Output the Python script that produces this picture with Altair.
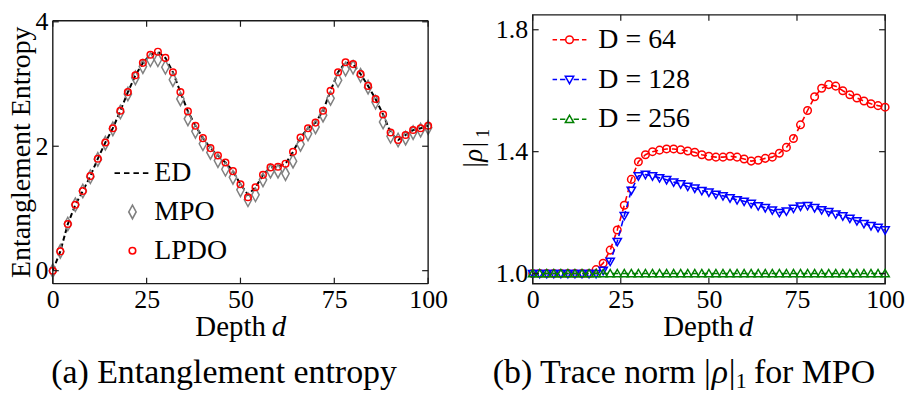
import altair as alt
import pandas as pd

# ---------------- data ----------------
depth = list(range(0, 101, 2))

ed_entropy = [0.00, 0.31, 0.75, 1.06, 1.28, 1.52, 1.80, 2.06, 2.29, 2.57,
              2.87, 3.14, 3.34, 3.47, 3.52, 3.42, 3.19, 2.87, 2.56, 2.33,
              2.13, 1.97, 1.85, 1.74, 1.60, 1.39, 1.22, 1.34, 1.54, 1.66,
              1.67, 1.72, 1.91, 2.14, 2.29, 2.38, 2.57, 2.89, 3.19, 3.35,
              3.32, 3.16, 2.97, 2.76, 2.51, 2.22, 2.10, 2.18, 2.26, 2.29, 2.33]

mpo_entropy = [0.00, 0.31, 0.75, 1.06, 1.28, 1.51, 1.79, 2.05, 2.28, 2.55,
               2.84, 3.10, 3.28, 3.39, 3.39, 3.27, 3.07, 2.76, 2.44, 2.24,
               2.04, 1.90, 1.77, 1.63, 1.50, 1.30, 1.14, 1.22, 1.46, 1.60,
               1.60, 1.56, 1.76, 2.03, 2.20, 2.31, 2.50, 2.77, 3.06, 3.24,
               3.27, 3.14, 2.95, 2.71, 2.39, 2.16, 2.10, 2.13, 2.22, 2.26, 2.30]

lpdo_entropy = [0.00, 0.31, 0.75, 1.06, 1.28, 1.52, 1.80, 2.06, 2.29, 2.57,
                2.87, 3.14, 3.34, 3.47, 3.52, 3.42, 3.19, 2.87, 2.56, 2.33,
                2.13, 1.97, 1.85, 1.74, 1.60, 1.39, 1.18, 1.34, 1.54, 1.66,
                1.67, 1.72, 1.91, 2.14, 2.29, 2.38, 2.57, 2.89, 3.19, 3.35,
                3.32, 3.16, 2.97, 2.76, 2.51, 2.22, 2.10, 2.18, 2.26, 2.29, 2.33]

norm_d64 = [1.000, 1.000, 1.000, 1.000, 1.000, 1.000, 1.000, 1.000, 1.000, 1.013,
            1.034, 1.077, 1.143, 1.224, 1.309, 1.367, 1.390, 1.400, 1.405, 1.409,
            1.409, 1.406, 1.402, 1.398, 1.390, 1.385, 1.382, 1.382, 1.385, 1.382,
            1.376, 1.369, 1.372, 1.378, 1.382, 1.395, 1.414, 1.443, 1.488, 1.535,
            1.580, 1.608, 1.620, 1.615, 1.600, 1.587, 1.576, 1.566, 1.557, 1.551,
            1.546]

norm_d128 = [1.000, 1.000, 1.000, 1.000, 1.000, 1.000, 1.000, 1.000, 1.000, 1.000,
             1.010, 1.040, 1.105, 1.190, 1.273, 1.320, 1.325, 1.320, 1.314, 1.308,
             1.300, 1.294, 1.286, 1.280, 1.272, 1.267, 1.260, 1.255, 1.248, 1.242,
             1.237, 1.230, 1.222, 1.216, 1.208, 1.200, 1.205, 1.214, 1.221, 1.223,
             1.216, 1.209, 1.203, 1.195, 1.189, 1.181, 1.173, 1.164, 1.157, 1.151,
             1.143]

norm_d256 = [1.000, 1.000, 1.000, 1.000, 1.000, 1.000, 1.000, 1.000, 1.000, 1.000,
             1.000, 1.000, 1.000, 1.000, 1.000, 1.000, 1.000, 1.000, 1.000, 1.000,
             1.000, 1.000, 1.000, 1.000, 1.000, 1.000, 1.000, 1.000, 1.000, 1.000,
             1.000, 1.000, 1.000, 1.000, 1.000, 1.000, 1.000, 1.000, 1.000, 1.000,
             1.000, 1.000, 1.000, 1.000, 1.000, 1.000, 1.000, 1.000, 1.000, 1.000,
             1.000]

left_names = ["ED", "MPO", "LPDO"]
right_names = ["D = 64", "D = 128", "D = 256"]

x_ticks = [0, 25, 50, 75, 100]
ent_ticks = [0, 2, 4]
norm_ticks = [1.0, 1.4, 1.8]

# ---------------- styling ----------------
SERIF = "Liberation Serif"
W1, W2, H = 377, 354, 270
LTOP = 6            # left frame starts 6px lower than the right one
TK = 6
FRAME = "#1a1a1a"
LBL = 26
CAP_Y = 370
XT_Y = 323

RED, BLUE, GREEN, GRAY = "#ff0000", "#0000ff", "#008000", "#808080"

CIRC_L = "M-0.33,0A0.33,0.33 0 1 0 0.33,0A0.33,0.33 0 1 0 -0.33,0Z"
DIAMOND = "M0,-0.68L0.37,0L0,0.68L-0.37,0Z"
ED_DASH = "M-1.8,0L-1.25,0M-0.85,0L-0.3,0M0.1,0L0.65,0M1.05,0L1.6,0"

CIRC_R = "M-0.38,0A0.38,0.38 0 1 0 0.38,0A0.38,0.38 0 1 0 -0.38,0Z"
TRI_DN = "M-0.42,-0.32L0.42,-0.32L0,0.42Z"
TRI_UP = "M-0.42,0.32L0.42,0.32L0,-0.42Z"
SIDE = "M-1.7,0L-1.25,0M-0.95,0L-0.42,0M0.42,0L0.95,0M1.25,0L1.7,0"

ONE = alt.Data(values=[{"k": 1}])


def txt(text, x, y, size, style="normal", align="center", angle=0):
    return alt.Chart(ONE).mark_text(
        text=text, font=SERIF, fontSize=size, fontStyle=style, align=align,
        baseline="alphabetic", angle=angle, color="black"
    ).encode(x=alt.value(x), y=alt.value(y))


def x_enc():
    return alt.X("d:Q", scale=alt.Scale(domain=[0, 100], nice=False, zero=False),
                 axis=alt.Axis(values=x_ticks, ticks=False, domain=False, grid=False,
                               labelFont=SERIF, labelFontSize=LBL, labelColor="black",
                               labelPadding=3, labelOverlap=False, labelFlush=False,
                               title=None))


def y_enc(field, domain, ticks, fmt):
    return alt.Y(field, scale=alt.Scale(domain=domain, nice=False, zero=False),
                 axis=alt.Axis(values=ticks, format=fmt, ticks=False, domain=False,
                               grid=False, labelFont=SERIF, labelFontSize=LBL,
                               labelColor="black", labelPadding=5, labelOverlap=False,
                               labelFlush=False, title=None))


def tick_layers(yfield, ydomain, yticks, fmt, W, top):
    xt = pd.DataFrame({"d": x_ticks})
    yt = pd.DataFrame({yfield.split(":")[0]: yticks})
    rule = dict(color=FRAME, strokeWidth=1.2)
    return [
        alt.Chart(xt).mark_rule(**rule).encode(x=x_enc(), y=alt.value(H), y2=alt.value(H - TK)),
        alt.Chart(xt).mark_rule(**rule).encode(x=x_enc(), y=alt.value(top), y2=alt.value(top + TK)),
        alt.Chart(yt).mark_rule(**rule).encode(y=y_enc(yfield, ydomain, yticks, fmt),
                                               x=alt.value(0), x2=alt.value(TK)),
        alt.Chart(yt).mark_rule(**rule).encode(y=y_enc(yfield, ydomain, yticks, fmt),
                                               x=alt.value(W - TK), x2=alt.value(W)),
    ]


# ---------------- left panel ----------------
ent_dom = [-0.208, 4.112]
df_ed = pd.DataFrame({"d": depth, "S": ed_entropy})
df_left = pd.concat([
    pd.DataFrame({"d": depth, "S": mpo_entropy, "method": "MPO"}),
    pd.DataFrame({"d": depth, "S": lpdo_entropy, "method": "LPDO"}),
])
YL = lambda: y_enc("S:Q", ent_dom, ent_ticks, "d")

ed_line = alt.Chart(df_ed).mark_line(color="black", strokeDash=[5, 3], strokeWidth=2).encode(
    x=x_enc(), y=YL())
mpo_pts = alt.Chart(df_left).transform_filter("datum.method == 'MPO'").mark_point(
    shape=DIAMOND, size=400, filled=False, color=GRAY, strokeWidth=1.5, opacity=1).encode(
    x=x_enc(), y=YL())
lpdo_pts = alt.Chart(df_left).transform_filter("datum.method == 'LPDO'").mark_point(
    shape=CIRC_L, size=400, filled=False, color=RED, strokeWidth=1.5, opacity=1).encode(
    x=x_enc(), y=YL())

leg_l = alt.Legend(title=None, orient="none", legendX=66, legendY=145, labelFont=SERIF,
                   labelFontSize=28, labelColor="black", symbolSize=400,
                   symbolStrokeWidth=1.6, labelOffset=8, rowPadding=11, padding=0,
                   labelLimit=400, symbolOpacity=1)
legend_left = alt.Chart(df_left).transform_filter("datum.d < 0").mark_point(
    filled=False, size=400, strokeWidth=1.6, opacity=1).encode(
    color=alt.Color("method:N", scale=alt.Scale(domain=left_names, range=["black", GRAY, RED]),
                    legend=leg_l),
    shape=alt.Shape("method:N", scale=alt.Scale(domain=left_names, range=[ED_DASH, DIAMOND, CIRC_L]),
                    legend=leg_l))

fr = dict(color=FRAME, strokeWidth=1.4)
left_frame = [
    alt.Chart(ONE).mark_rule(**fr).encode(x=alt.value(0), x2=alt.value(W1), y=alt.value(LTOP)),
    alt.Chart(ONE).mark_rule(**fr).encode(x=alt.value(0), x2=alt.value(W1), y=alt.value(H)),
    alt.Chart(ONE).mark_rule(**fr).encode(x=alt.value(0), y=alt.value(LTOP), y2=alt.value(H)),
    alt.Chart(ONE).mark_rule(**fr).encode(x=alt.value(W1), y=alt.value(LTOP), y2=alt.value(H)),
]

left = alt.layer(
    ed_line, mpo_pts, lpdo_pts, legend_left,
    *tick_layers("S:Q", ent_dom, ent_ticks, "d", W1, LTOP),
    *left_frame,
    txt("Entanglement Entropy", -23, 138, 28, angle=270),
    txt("Depth", 214, XT_Y, 29, align="right"),
    txt("d", 220, XT_Y, 29, style="italic", align="left"),
    txt("(a) Entanglement entropy", 172, CAP_Y, 34),
).properties(width=W1, height=H, view=alt.ViewBackground(stroke="transparent"))

# ---------------- right panel ----------------
norm_dom = [0.967, 1.849]
df_right = pd.concat([
    pd.DataFrame({"d": depth, "r": norm_d64, "series": right_names[0]}),
    pd.DataFrame({"d": depth, "r": norm_d128, "series": right_names[1]}),
    pd.DataFrame({"d": depth, "r": norm_d256, "series": right_names[2]}),
])
YR = lambda: y_enc("r:Q", norm_dom, norm_ticks, ".1f")

right_layers = []
for name, col, shp in [(right_names[0], RED, CIRC_R),
                       (right_names[1], BLUE, TRI_DN),
                       (right_names[2], GREEN, TRI_UP)]:
    base = alt.Chart(df_right).transform_filter(alt.datum.series == name)
    right_layers.append(base.mark_line(color=col, strokeDash=[6, 4], strokeWidth=1.6).encode(
        x=x_enc(), y=YR()))
    right_layers.append(base.mark_point(shape=shp, size=400, filled=False, color=col,
                                        strokeWidth=1.5, opacity=1).encode(x=x_enc(), y=YR()))

leg_r = alt.Legend(title=None, orient="none", legendX=23, legendY=11, labelFont=SERIF,
                   labelFontSize=28, labelColor="black", symbolSize=400,
                   symbolStrokeWidth=1.5, labelOffset=15, rowPadding=12, padding=0,
                   labelLimit=400, symbolOpacity=1)
legend_right = alt.Chart(df_right).transform_filter("datum.d < 0").mark_point(
    filled=False, size=400, strokeWidth=1.5, opacity=1).encode(
    color=alt.Color("series:N", scale=alt.Scale(domain=right_names, range=[RED, BLUE, GREEN]),
                    legend=leg_r),
    shape=alt.Shape("series:N", scale=alt.Scale(domain=right_names,
                                                range=[SIDE + CIRC_R, SIDE + TRI_DN, SIDE + TRI_UP]),
                    legend=leg_r))

right = alt.layer(
    *right_layers, legend_right,
    *tick_layers("r:Q", norm_dom, norm_ticks, ".1f", W2, 0),
    txt("|ρ|", -51, 141, 27, style="italic", angle=270),
    txt("1", -44, 119, 18, angle=270),
    txt("Depth", 202, XT_Y, 29, align="right"),
    txt("d", 207, XT_Y, 29, style="italic", align="left"),
    txt("(b) Trace norm |", 179, CAP_Y, 34, align="right"),
    txt("ρ", 180, CAP_Y, 34, style="italic", align="left"),
    txt("|", 197, CAP_Y, 34, align="left"),
    txt("1", 204, CAP_Y + 5, 22, align="left"),
    txt("for MPO", 344, CAP_Y, 34, align="right"),
).properties(width=W2, height=H)

chart = alt.hconcat(left, right, spacing=10).resolve_scale(
    color="independent", shape="independent"
).resolve_legend(
    color="independent", shape="independent"
).properties(
    padding={"left": -1, "top": -1, "right": 0, "bottom": -2}
).configure_view(stroke=FRAME, strokeWidth=1.4).configure_axis(
    labelFont=SERIF, labelFontSize=LBL, labelColor="black"
).configure_legend(labelFont=SERIF)

chart.save("out.html", embed_options={"renderer": "svg", "actions": False})
